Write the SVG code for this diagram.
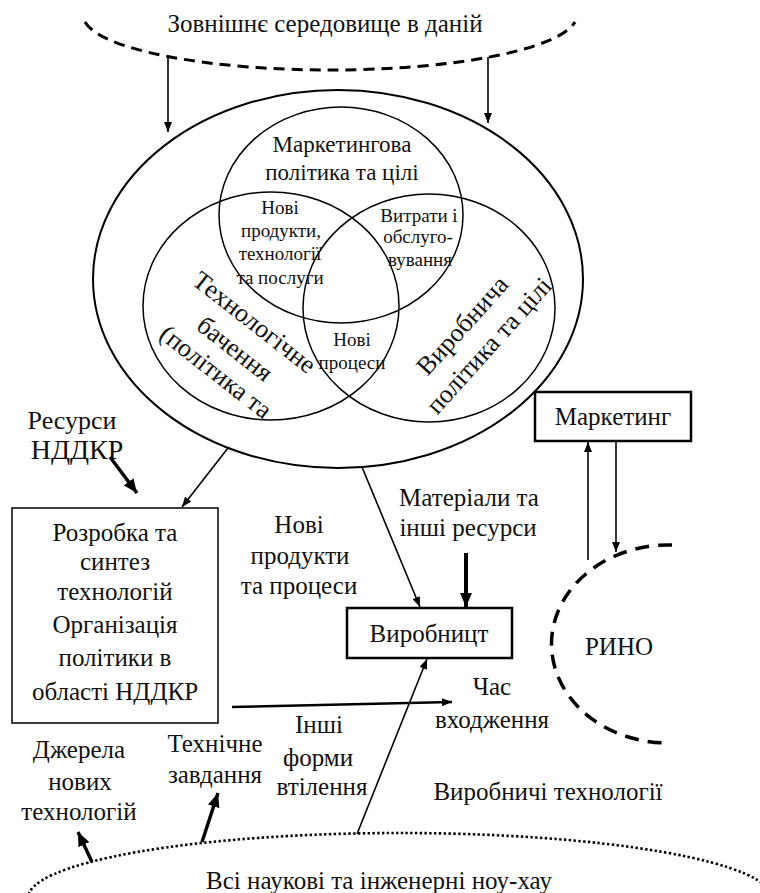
<svg xmlns="http://www.w3.org/2000/svg" width="760" height="893" viewBox="0 0 760 893">
<defs>
<style>
.t{font-family:"Liberation Serif","Times New Roman",serif;fill:#111;text-anchor:middle}
.s19{font-size:19px}.s23{font-size:23px}.s25{font-size:25px}.s26{font-size:26px}
.ln{fill:none;stroke:#000;stroke-width:1.5}
.thin{fill:none;stroke:#000;stroke-width:1.6;marker-end:url(#ah)}
.thick{fill:none;stroke:#000;stroke-width:3.6;marker-end:url(#ahb)}
.box{fill:#fff;stroke:#000}
</style>
<marker id="ah" viewBox="0 0 10 10" refX="10" refY="5" markerWidth="10" markerHeight="8" markerUnits="userSpaceOnUse" orient="auto" preserveAspectRatio="none"><path d="M0,0L10,5L0,10z" fill="#000"/></marker>
<marker id="ahb" viewBox="0 0 10 10" refX="10" refY="5" markerWidth="14" markerHeight="12" markerUnits="userSpaceOnUse" orient="auto" preserveAspectRatio="none"><path d="M0,0L10,5L0,10z" fill="#000"/></marker>
</defs>
<rect width="760" height="893" fill="#fff"/>

<g id="environment">
<path d="M85,22 A247,55 0 0 0 575,22" fill="none" stroke="#000" stroke-width="3" stroke-dasharray="11 7"/>
<text class="t s25" x="325" y="32">Зовнішнє середовище в даній</text>
</g>

<g id="strategy-ellipse">
<ellipse cx="338" cy="279" rx="245" ry="189" fill="none" stroke="#000" stroke-width="2"/>
</g>

<g id="marketing-policy">
<ellipse class="ln" cx="341" cy="215" rx="122" ry="108"/>
<text class="t s23" x="342" y="152">Маркетингова</text>
<text class="t s23" x="342" y="180">політика та цілі</text>
</g>

<g id="technology-vision">
<ellipse class="ln" cx="271" cy="306" rx="128" ry="114"/>
<text class="t s26" transform="translate(253.5,323.5) rotate(38)" y="7">Технологічне</text>
<text class="t s26" transform="translate(234,350) rotate(38)" y="7">бачення</text>
<text class="t s26" transform="translate(215,373) rotate(38)" y="7">(політика та</text>
</g>

<g id="production-policy">
<ellipse class="ln" cx="429" cy="308" rx="126" ry="114"/>
<text class="t s26" transform="translate(463.5,326.5) rotate(-48)" y="7">Виробнича</text>
<text class="t s26" transform="translate(490,346.5) rotate(-48)" y="7">політика та цілі</text>
</g>

<g id="new-products">
<text class="t s19" x="280" y="214">Нові</text>
<text class="t s19" x="281" y="237">продукти,</text>
<text class="t s19" x="280" y="260">технології</text>
<text class="t s19" x="280" y="284">та послуги</text>
</g>

<g id="costs">
<text class="t s19" x="419" y="222">Витрати і</text>
<text class="t s19" x="418" y="243">обслуго-</text>
<text class="t s19" x="420" y="266">вування</text>
</g>

<g id="new-processes">
<text class="t s19" x="352" y="346">Нові</text>
<text class="t s19" x="352" y="369">процеси</text>
</g>

<g id="rnd-resources">
<text class="t s26" x="72" y="429">Ресурси</text>
<text class="t" x="77" y="459" style="font-size:28px">НДДКР</text>
</g>

<g id="rnd-box">
<rect class="box" x="12" y="508" width="206" height="215" stroke-width="1.5"/>
<text class="t s25" x="115" y="541">Розробка та</text>
<text class="t s25" x="115" y="570">синтез</text>
<text class="t s25" x="115" y="600">технологій</text>
<text class="t s25" x="115" y="633">Організація</text>
<text class="t s25" x="115" y="666">політики в</text>
<text class="t s25" x="115" y="700">області НДДКР</text>
</g>

<g id="new-products-processes">
<text class="t s25" x="299" y="533">Нові</text>
<text class="t s25" x="300" y="564">продукти</text>
<text class="t s25" x="299" y="594">та процеси</text>
</g>

<g id="materials">
<text class="t s25" x="469" y="506">Матеріали та</text>
<text class="t s25" x="468" y="536">інші ресурси</text>
</g>

<g id="production-box">
<rect class="box" x="347" y="608" width="165" height="50" stroke-width="2.5"/>
<text class="t s25" x="429" y="642">Виробницт</text>
</g>

<g id="marketing-box">
<rect class="box" x="535" y="392" width="156" height="49" stroke-width="2.5"/>
<text class="t s25" x="613" y="425">Маркетинг</text>
</g>

<g id="market">
<path d="M672,545 A117,99 0 0 0 665,743" fill="none" stroke="#000" stroke-width="3.5" stroke-dasharray="14 9"/>
<text class="t s25" x="619" y="655">РИНО</text>
</g>

<g id="entry-time">
<text class="t s25" x="492" y="695">Час</text>
<text class="t s25" x="492" y="728">входження</text>
</g>

<g id="other-forms">
<text class="t s25" x="319" y="733">Інші</text>
<text class="t s25" x="318" y="766">форми</text>
<text class="t s25" x="322" y="795">втілення</text>
</g>

<g id="tech-task">
<text class="t s25" x="215" y="752">Технічне</text>
<text class="t s25" x="215" y="783">завдання</text>
</g>

<g id="sources">
<text class="t s25" x="79" y="758">Джерела</text>
<text class="t s25" x="80" y="790">нових</text>
<text class="t s25" x="79" y="820">технологій</text>
</g>

<g id="production-tech">
<text class="t s25" x="548" y="800">Виробничі технології</text>
</g>

<g id="know-how">
<ellipse cx="400" cy="898" rx="372" ry="65" fill="none" stroke="#000" stroke-width="2.6" stroke-dasharray="2.4 2.4"/>
<text class="t s25" x="379" y="889">Всі наукові та інженерні ноу-хау</text>
</g>

<g id="connectors">
<path class="thin" d="M168,57 L168,132"/>
<path class="thin" d="M488,57 L488,123"/>
<path class="thin" d="M228,448 L182,507"/>
<path class="thin" d="M362,467 L420,607"/>
<path class="thick" style="stroke-width:3.4" d="M110,457 L137,493"/>
<path class="thick" style="stroke-width:4" d="M466,553 L466,607"/>
<path class="thin" d="M588,560 L588,442"/>
<path class="thin" d="M616,441 L616,552"/>
<path class="thin" style="stroke-width:2.6" d="M232,707 L452,702"/>
<path class="thin" d="M357,834 L427,659"/>
<path class="thick" style="stroke-width:3.4" d="M202,842 L218,793"/>
<path class="thick" style="stroke-width:3.4" d="M92,862 L78,832"/>
</g>
</svg>
